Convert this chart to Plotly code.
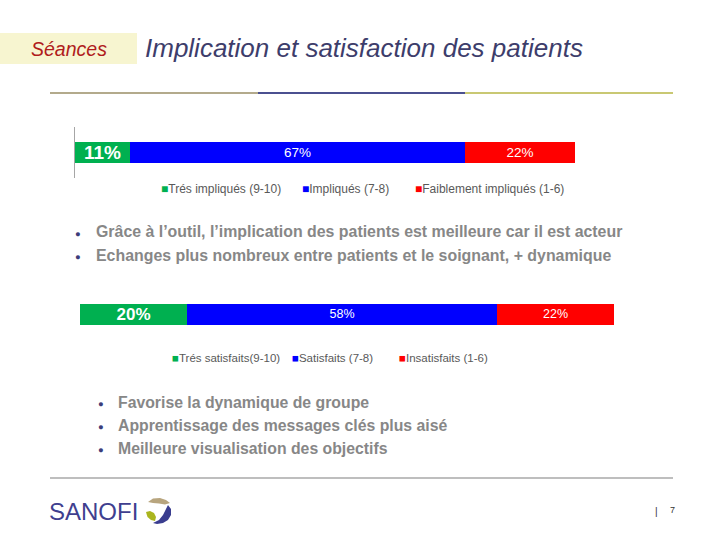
import plotly.graph_objects as go

# ---- data ----
impl_names = ["Trés impliqués (9-10)", "Impliqués (7-8)", "Faiblement impliqués (1-6)"]
impl_values = [11, 67, 22]
sat_names = ["Trés satisfaits(9-10)", "Satisfaits (7-8)", "Insatisfaits (1-6)"]
sat_values = [20, 58, 22]
seg_colors = ["#00b050", "#0000ff", "#ff0000"]

title_text = "Implication et satisfaction des patients"
section_text = "Séances"
bullets_top = ["Grâce à l’outil, l’implication des patients est meilleure car il est acteur",
               "Echanges plus nombreux entre patients et le soignant, + dynamique"]
bullets_bottom = ["Favorise la dynamique de groupe",
                  "Apprentissage des messages clés plus aisé",
                  "Meilleure visualisation des objectifs"]

W, H = 720, 540
FONT = "Arial, Liberation Sans, sans-serif"


def px(x):
    return x / W


def py(y):
    return 1 - y / H


fig = go.Figure()

# chart 1 (implication)
for i, (n, v, c) in enumerate(zip(impl_names, impl_values, seg_colors)):
    first = i == 0
    fig.add_trace(go.Bar(
        x=[v], y=[0], orientation="h", name=n, marker=dict(color=c, line=dict(width=0)),
        text=[f"<b>{v}%</b>" if first else f"{v}%"], textposition="inside",
        insidetextanchor="middle", textangle=0, constraintext="none",
        textfont=dict(color="white", size=19 if first else 13.5, family=FONT),
        width=0.4, showlegend=False, xaxis="x", yaxis="y"))

# chart 2 (satisfaction)
for i, (n, v, c) in enumerate(zip(sat_names, sat_values, seg_colors)):
    first = i == 0
    fig.add_trace(go.Bar(
        x=[v], y=[0], orientation="h", name=n, marker=dict(color=c, line=dict(width=0)),
        text=[f"<b>{v}%</b>" if first else f"{v}%"], textposition="inside",
        insidetextanchor="middle", textangle=0, constraintext="none",
        textfont=dict(color="white", size=17 if first else 12.5, family=FONT),
        width=0.525, showlegend=False, xaxis="x2", yaxis="y2"))

fig.update_layout(
    width=W, height=H, margin=dict(l=0, r=0, t=0, b=0),
    paper_bgcolor="white", plot_bgcolor="white",
    barmode="stack", bargap=0, showlegend=False,
    font=dict(family=FONT),
    xaxis=dict(domain=[px(75), px(575)], range=[0, 100], visible=False),
    yaxis=dict(domain=[py(178), py(127)], range=[-0.5, 0.5], showticklabels=False,
               showgrid=False, zeroline=False, showline=True, linecolor="#a6a6a6",
               linewidth=1, ticks=""),
    xaxis2=dict(domain=[px(80), px(614)], range=[0, 100], visible=False, anchor="y2"),
    yaxis2=dict(domain=[py(333.5), py(293.5)], range=[-0.5, 0.5], visible=False, anchor="x2"),
)

shapes = []
annotations = []

# header box
shapes.append(dict(type="rect", xref="paper", yref="paper", x0=px(0), x1=px(137),
                   y0=py(64), y1=py(33), fillcolor="#f7f5d0", line=dict(width=0), layer="below"))
annotations.append(dict(text=f"<i>{section_text}</i>", xref="paper", yref="paper",
                        x=px(69), y=py(49), xanchor="center", yanchor="middle", showarrow=False,
                        font=dict(size=19.5, color="#b01c1c", family=FONT)))
annotations.append(dict(text=f"<i>{title_text}</i>", xref="paper", yref="paper",
                        x=px(143), y=py(48), xanchor="left", yanchor="middle", showarrow=False,
                        font=dict(size=26, color="#3d3d6b", family=FONT)))

# header rule (three colors)
for x0, x1, col in [(50, 258, "#b3aa8c"), (258, 465, "#4b5090"), (465, 673, "#c9c873")]:
    shapes.append(dict(type="line", xref="paper", yref="paper", x0=px(x0), x1=px(x1),
                       y0=py(93), y1=py(93), line=dict(color=col, width=2)))

# footer rule
shapes.append(dict(type="line", xref="paper", yref="paper", x0=px(50), x1=px(673),
                   y0=py(478), y1=py(478), line=dict(color="#a8a8a8", width=1.5)))


# legends (as annotations with colored squares)
def add_legend(names, xs, y, size):
    for n, c, x in zip(names, seg_colors, xs):
        annotations.append(dict(
            text=f"<span style='color:{c}'>■</span>{n}", xref="paper", yref="paper",
            x=px(x), y=py(y), xanchor="left", yanchor="middle", showarrow=False,
            font=dict(size=size, color="#595959", family=FONT)))


add_legend(impl_names, [159, 300, 413], 188.5, 12)
add_legend(sat_names, [170, 290, 397], 358, 11.5)


# bullets
def add_bullets(items, xdot, xtext, y0, dy, size):
    for k, t in enumerate(items):
        y = y0 + k * dy
        annotations.append(dict(text="●", xref="paper", yref="paper", x=px(xdot), y=py(y + 1),
                                xanchor="center", yanchor="middle", showarrow=False,
                                font=dict(size=9.5, color="#3d3d7a", family=FONT)))
        annotations.append(dict(text=f"<b>{t}</b>", xref="paper", yref="paper", x=px(xtext), y=py(y),
                                xanchor="left", yanchor="middle", showarrow=False,
                                font=dict(size=size, color="#878787", family=FONT)))


add_bullets(bullets_top, 78, 94, 232, 23, 15.9)
add_bullets(bullets_bottom, 101, 116, 402, 23, 15.8)

# SANOFI logo
annotations.append(dict(text="SANOFI", xref="paper", yref="paper", x=px(47), y=py(511),
                        xanchor="left", yanchor="middle", showarrow=False,
                        font=dict(size=24, color="#3f3f8f", family=FONT)))


def path(points):
    return "M " + " L ".join(f"{px(a):.5f},{py(b):.5f}" for a, b in points) + " Z"


# tan leaf (top)
shapes.append(dict(type="path", xref="paper", yref="paper",
                   path=path([(148, 502), (153, 498.5), (160, 498), (166, 500), (170, 503),
                              (165, 504.5), (159, 503.5), (153, 503)]),
                   fillcolor="#b8a57e", line=dict(width=0)))
# olive leaf (bottom-left)
shapes.append(dict(type="path", xref="paper", yref="paper",
                   path=path([(146, 512), (150, 511), (154, 513), (156, 517), (155, 521),
                              (151, 520), (147.5, 517)]),
                   fillcolor="#aab51e", line=dict(width=0)))
# navy swoosh (right)
shapes.append(dict(type="path", xref="paper", yref="paper",
                   path=path([(168, 505), (171, 509), (171, 515), (168, 520), (163, 523),
                              (157, 524), (153, 523), (159, 520), (163, 515), (166, 509)]),
                   fillcolor="#3a3d8f", line=dict(width=0)))

# page number
annotations.append(dict(text="|", xref="paper", yref="paper", x=px(656), y=py(511),
                        xanchor="center", yanchor="middle", showarrow=False,
                        font=dict(size=10, color="#333333", family=FONT)))
annotations.append(dict(text="7", xref="paper", yref="paper", x=px(672), y=py(510),
                        xanchor="center", yanchor="middle", showarrow=False,
                        font=dict(size=9, color="#333333", family=FONT)))

fig.update_layout(shapes=shapes, annotations=annotations)
fig.write_html("out.html", config={"displayModeBar": False},
               post_script="document.body.style.margin='0';")
